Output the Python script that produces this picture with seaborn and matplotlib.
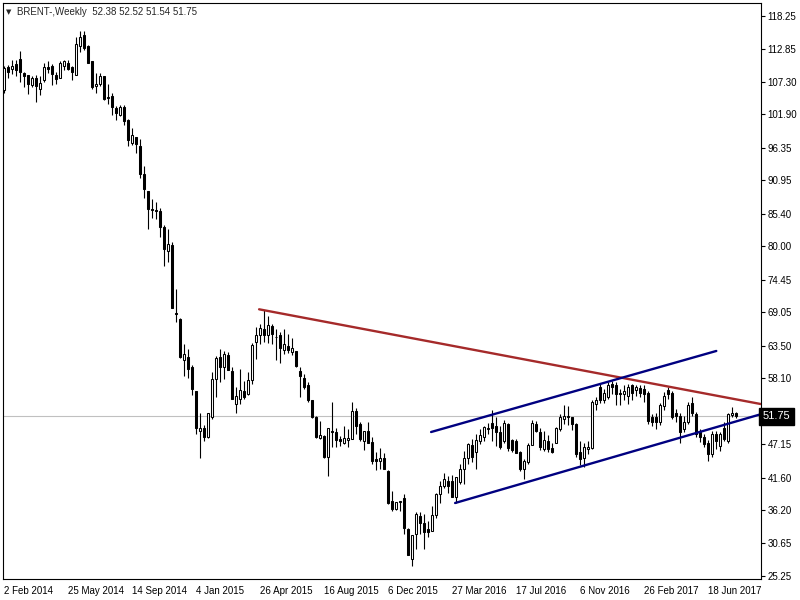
import numpy as np
import pandas as pd
import matplotlib
matplotlib.use("Agg")
import matplotlib.pyplot as plt
import matplotlib.transforms as mtransforms
import seaborn as sns

# weekly BRENT bars, first bar = 2 Feb 2014
start_date = "2014-02-02"
opens = [106.0, 109.8, 109.4, 110.3, 111.1, 108.8, 108.4, 106.8, 108.0, 106.2,
         107.6, 109.8, 109.9, 108.5, 108.0, 110.0, 110.5, 109.7, 108.5, 113.2,
         115.1, 113.3, 110.7, 106.7, 106.9, 108.3, 104.8, 104.9, 103.0, 101.8,
         103.2, 100.9, 97.1, 98.1, 96.6, 92.0, 89.2, 86.2, 86.0, 85.9,
         83.2, 79.3, 80.3, 68.9, 67.9, 61.2, 61.7, 59.9, 55.9, 49.3,
         49.9, 48.3, 51.7, 58.0, 61.6, 59.9, 62.0, 59.3, 53.8, 54.6,
         56.0, 55.5, 57.8, 64.1, 65.3, 66.3, 65.3, 66.8, 64.9, 65.2,
         62.8, 63.5, 62.4, 62.6, 59.3, 58.1, 57.0, 54.5, 51.7, 48.1,
         48.5, 45.0, 49.4, 49.1, 48.0, 47.4, 47.9, 48.0, 52.7, 50.5,
         47.7, 49.4, 47.5, 44.6, 44.4, 44.9, 42.7, 37.7, 36.3, 37.6,
         38.2, 33.0, 28.0, 32.2, 35.2, 34.1, 33.0, 32.8, 35.3, 38.8,
         40.2, 41.0, 41.0, 38.3, 40.8, 43.0, 44.8, 47.0, 45.9, 47.7,
         48.4, 49.6, 50.7, 50.2, 49.2, 47.7, 50.5, 47.8, 47.6, 45.8,
         43.1, 44.1, 47.0, 50.5, 49.2, 46.3, 47.7, 46.5, 47.4, 49.6,
         51.3, 51.9, 51.6, 50.5, 45.8, 44.8, 46.3, 46.5, 53.8, 56.6,
         54.5, 55.0, 57.2, 56.9, 55.7, 55.4, 55.2, 56.9, 56.1, 56.5,
         56.3, 55.6, 51.7, 51.6, 50.8, 53.4, 56.1, 55.7, 52.3, 51.9,
         49.6, 50.8, 53.9, 52.1, 49.1, 48.3, 47.3, 45.5, 48.9, 46.9,
         49.8, 47.7, 52.0, 52.38]
highs = [110.0, 110.1, 110.9, 110.9, 112.4, 109.0, 108.5, 108.3, 108.4, 108.3,
         110.4, 110.8, 110.2, 109.0, 110.8, 110.9, 110.9, 110.0, 114.7, 115.8,
         115.8, 113.4, 110.8, 108.7, 108.7, 108.3, 106.9, 105.4, 103.3, 103.4,
         103.4, 101.1, 99.6, 98.1, 97.8, 93.3, 89.2, 87.8, 87.3, 86.4,
         83.6, 82.8, 80.7, 72.9, 68.1, 63.7, 63.0, 60.3, 56.0, 52.4,
         50.4, 52.4, 59.1, 61.8, 63.0, 62.6, 62.4, 60.0, 56.6, 59.6,
         57.7, 59.2, 64.0, 66.6, 67.1, 69.4, 68.5, 67.1, 66.3, 65.7,
         66.3, 65.4, 64.8, 62.6, 59.9, 58.8, 57.4, 54.5, 51.9, 51.0,
         48.6, 49.8, 54.2, 49.8, 48.5, 50.2, 49.6, 54.1, 53.1, 50.9,
         49.4, 50.9, 48.4, 45.9, 46.5, 45.6, 42.8, 39.4, 37.6, 37.7,
         38.8, 33.3, 32.0, 35.9, 35.8, 35.5, 34.4, 36.9, 39.0, 41.0,
         42.4, 41.9, 42.0, 41.7, 43.8, 46.0, 47.3, 48.0, 48.9, 49.6,
         50.2, 50.7, 52.8, 51.6, 50.2, 51.1, 50.7, 48.0, 48.0, 46.0,
         44.6, 47.3, 51.1, 51.0, 49.9, 49.4, 48.7, 47.4, 50.0, 52.1,
         53.7, 53.4, 51.7, 50.7, 47.6, 47.4, 47.7, 54.5, 55.0, 57.1,
         56.3, 57.4, 57.7, 57.4, 56.3, 57.0, 57.2, 57.1, 57.0, 57.0,
         57.0, 56.0, 52.2, 52.3, 54.0, 55.8, 56.6, 56.0, 52.9, 52.3,
         51.9, 54.1, 54.9, 52.5, 49.6, 48.8, 47.8, 49.3, 49.3, 49.2,
         50.9, 52.4, 53.3, 52.52]
lows = [105.4, 107.9, 108.6, 108.3, 107.3, 106.5, 105.3, 106.5, 104.0, 105.1,
        107.3, 108.7, 106.8, 106.9, 107.9, 109.2, 109.2, 107.7, 108.4, 112.2,
        112.6, 110.5, 106.1, 105.4, 106.7, 104.3, 103.7, 101.8, 100.9, 101.6,
        100.1, 96.7, 96.9, 95.5, 91.3, 88.0, 82.9, 84.7, 84.5, 81.6,
        76.8, 77.4, 69.7, 67.4, 61.5, 58.4, 58.2, 55.3, 48.8, 44.9,
        47.6, 48.2, 51.3, 54.9, 57.5, 58.0, 59.4, 54.6, 52.4, 53.8,
        54.6, 55.3, 57.2, 61.3, 63.8, 64.1, 63.9, 63.7, 61.1, 60.7,
        62.1, 62.2, 62.0, 59.9, 54.9, 56.3, 54.1, 51.5, 48.2, 48.0,
        44.9, 41.9, 46.6, 46.6, 46.9, 47.1, 46.7, 48.0, 48.8, 47.7,
        46.1, 47.4, 43.9, 42.8, 43.0, 43.1, 37.2, 36.0, 36.2, 36.0,
        32.2, 28.8, 26.9, 29.7, 32.2, 29.7, 31.7, 32.7, 34.9, 37.4,
        39.9, 39.1, 38.3, 37.3, 40.5, 40.5, 43.9, 44.1, 43.0, 47.1,
        47.6, 48.8, 47.7, 46.9, 46.3, 47.4, 46.0, 45.8, 45.6, 42.7,
        41.3, 43.8, 47.0, 49.1, 46.1, 46.0, 45.9, 45.6, 47.3, 49.4,
        50.5, 50.4, 49.5, 45.0, 43.7, 43.3, 45.5, 46.3, 52.8, 53.9,
        53.9, 54.6, 55.5, 53.6, 53.6, 54.5, 53.8, 54.5, 55.2, 55.0,
        54.2, 50.5, 50.2, 49.6, 50.3, 52.8, 54.7, 51.3, 50.9, 47.4,
        49.1, 50.5, 51.9, 48.3, 47.5, 46.6, 44.4, 45.0, 46.4, 46.0,
        47.6, 47.4, 51.6, 51.54]
closes = [109.6, 109.0, 110.0, 109.2, 108.9, 108.3, 106.9, 108.0, 106.7, 107.2,
          109.7, 109.5, 108.6, 107.8, 110.5, 110.7, 109.4, 108.9, 113.6, 114.7,
          113.0, 110.5, 106.4, 107.0, 108.3, 104.4, 104.7, 103.2, 102.2, 103.2,
          100.8, 97.6, 98.5, 97.0, 92.0, 89.6, 86.2, 86.0, 85.8, 83.2,
          79.6, 80.4, 69.8, 68.8, 61.6, 62.1, 59.6, 56.3, 49.9, 49.8,
          48.4, 52.3, 58.0, 61.5, 59.9, 62.1, 59.5, 54.6, 55.2, 56.1,
          54.9, 57.8, 63.6, 65.3, 66.4, 65.3, 66.9, 65.4, 65.0, 63.1,
          63.8, 62.8, 63.1, 60.1, 58.5, 56.7, 54.4, 51.6, 48.3, 48.7,
          45.0, 49.8, 49.1, 47.9, 47.6, 48.1, 48.1, 52.6, 50.2, 48.0,
          49.4, 47.4, 44.4, 44.4, 44.9, 43.1, 37.4, 36.3, 37.5, 37.7,
          33.2, 28.8, 32.0, 35.6, 34.0, 32.6, 32.6, 35.3, 38.8, 40.2,
          41.3, 40.2, 38.4, 41.7, 43.0, 44.8, 47.1, 45.0, 47.8, 48.7,
          50.0, 49.9, 49.8, 49.2, 46.6, 50.6, 46.5, 46.1, 45.6, 43.0,
          44.4, 47.0, 50.6, 49.4, 46.6, 47.8, 46.3, 45.8, 49.8, 51.6,
          51.9, 51.6, 50.5, 45.5, 44.6, 46.6, 46.6, 54.2, 54.5, 54.5,
          55.7, 56.9, 56.7, 55.4, 55.4, 56.0, 56.7, 55.6, 56.6, 55.6,
          55.5, 51.0, 50.8, 50.8, 53.7, 55.2, 55.4, 51.6, 51.8, 49.1,
          50.9, 53.6, 52.3, 48.8, 48.3, 47.1, 45.5, 48.9, 47.7, 48.8,
          48.0, 52.1, 52.4, 51.75]

# trend lines drawn on the chart: (bar index, price) end points
red_line_x = [63.9, 189.3]
red_line_y = [69.54, 53.81]
upper_channel_x = [106.9, 178.2]
upper_channel_y = [49.16, 62.62]
lower_channel_x = [112.9, 189.1]
lower_channel_y = [37.37, 52.07]

price_ticks = [118.25, 112.85, 107.30, 101.90, 96.35, 90.95, 85.40, 80.00, 74.45,
               69.05, 63.50, 58.10, 52.55, 47.15, 41.60, 36.20, 30.65, 25.25]

dates = pd.date_range(start_date, periods=len(closes), freq="7D")
df = pd.DataFrame({"date": dates, "open": opens, "high": highs,
                   "low": lows, "close": closes})
df["idx"] = np.arange(len(df))
df["bull"] = df["close"] >= df["open"]

sns.set_style("white")
plt.rcParams["font.family"] = ["Liberation Sans", "DejaVu Sans"]
FS = 7

fig = plt.figure(figsize=(8, 6), dpi=100)
ax = fig.add_axes([2.5 / 800, 21 / 600, 758 / 800, 576.5 / 600])

# last price line
ax.axhline(closes[-1], color="#C0C0C0", lw=0.8, zorder=1)

# wicks then bodies
ax.vlines(df["idx"], df["low"], df["high"], color="black", lw=0.8, zorder=2)
body_bottom = df[["open", "close"]].min(axis=1)
body_height = (df["close"] - df["open"]).abs()
ax.bar(df["idx"], body_height, bottom=body_bottom, width=0.5,
       color=np.where(df["bull"], "white", "black"), edgecolor="black",
       linewidth=0.75, zorder=3)

sns.lineplot(x=red_line_x, y=red_line_y, color="#A52A2A", lw=1.7, ax=ax, zorder=4)
sns.lineplot(x=upper_channel_x, y=upper_channel_y, color="#000080", lw=1.7, ax=ax, zorder=4)
sns.lineplot(x=lower_channel_x, y=lower_channel_y, color="#000080", lw=1.7, ax=ax, zorder=4)

ax.set_xlim(-0.25, 189.25)
ax.set_ylim(24.75, 120.49)

for s in ax.spines.values():
    s.set_visible(True)
    s.set_color("black")
    s.set_linewidth(0.8)

ax.yaxis.tick_right()
ax.set_yticks(price_ticks)
ax.set_yticklabels([f"{t:.2f}" for t in price_ticks])
ax.tick_params(axis="y", direction="out", length=3, width=0.8, pad=2,
               labelsize=FS, colors="black")

xt = list(range(0, len(df), 16))
ax.set_xticks(xt)
ax.set_xticklabels([f"{d.day} {d.strftime('%b %Y')}" for d in dates[xt]])
ax.tick_params(axis="x", direction="out", length=3, width=0.8, pad=2,
               labelsize=FS, colors="black")
plt.setp(ax.get_xticklabels(), ha="left")
ax.set_xlabel("")
ax.set_ylabel("")

# current price box on the price scale (sits over the 52.55 label, as in MT4)
trans = mtransforms.blended_transform_factory(ax.transAxes, ax.transData)
ax.text(1.003, closes[-1], f"{closes[-1]:.2f}", transform=trans, ha="left",
        va="center", color="white", fontsize=FS + 1, zorder=10,
        bbox=dict(boxstyle="square,pad=0.3", fc="black", ec="black"),
        clip_on=False)

fig.text(6 / 800, 1 - 12 / 600, "\u25BC", fontsize=5, ha="left", va="center",
         family="DejaVu Sans")
fig.text(17 / 800, 1 - 12 / 600, "BRENT-,Weekly  52.38 52.52 51.54 51.75",
         fontsize=FS, ha="left", va="center")

fig.savefig("out.png", dpi=100)
